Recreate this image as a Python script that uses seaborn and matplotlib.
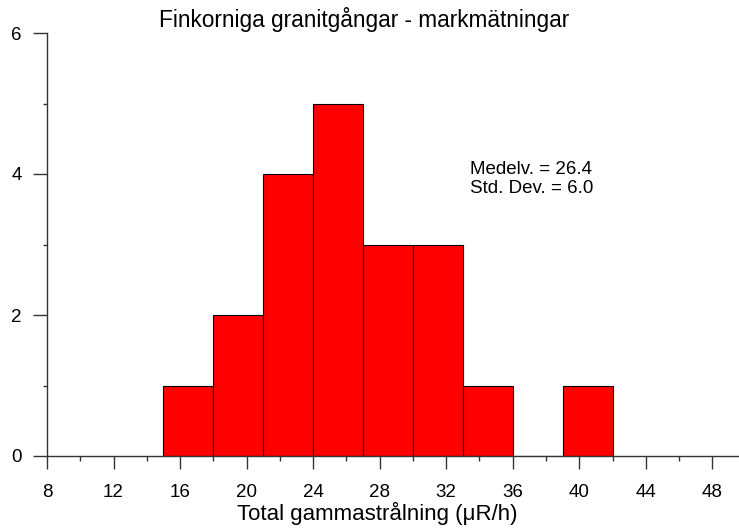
import numpy as np
import matplotlib
matplotlib.use("Agg")
import matplotlib.pyplot as plt
import seaborn as sns
from matplotlib.ticker import MultipleLocator

# histogram bins (width 3) and counts
bin_edges = [15, 18, 21, 24, 27, 30, 33, 36, 39, 42]
counts = [1, 2, 4, 5, 3, 3, 1, 0, 1]
mean_value = 26.4
std_value = 6.0

title = "Finkorniga granitgångar - markmätningar"
xlabel = "Total gammastrålning (\u03bcR/h)"

sns.set_style("white")
plt.rcParams['font.family'] = ['Liberation Sans', 'DejaVu Sans']
plt.rcParams['text.color'] = 'black'
plt.rcParams['xtick.labelcolor'] = 'black'
plt.rcParams['ytick.labelcolor'] = 'black'

centers = [(a + b) / 2 for a, b in zip(bin_edges[:-1], bin_edges[1:])]

fig = plt.figure(figsize=(7.39, 5.28), dpi=100)
ax = fig.add_axes([47 / 739, 1 - 456 / 528, 1 - 47 / 739, (456 - 33) / 528])

sns.histplot(x=centers, weights=counts, bins=bin_edges, color="#ff0000",
             edgecolor="black", linewidth=0.8, alpha=1.0, ax=ax)

ax.set_xlim(8, 49.6)
ax.set_ylim(0, 6)
ax.xaxis.set_major_locator(MultipleLocator(4))
ax.xaxis.set_minor_locator(MultipleLocator(2))
ax.yaxis.set_major_locator(MultipleLocator(2))
ax.yaxis.set_minor_locator(MultipleLocator(1))
ax.set_xticks(np.arange(8, 49, 4))

for side in ["top", "right"]:
    ax.spines[side].set_visible(False)
for side in ["left", "bottom"]:
    ax.spines[side].set_color("#333333")
    ax.spines[side].set_linewidth(1.0)

ax.tick_params(axis="x", which="major", direction="out", length=9, width=1,
               color="#333333", labelcolor="black", labelsize=13.5, pad=11, bottom=True)
ax.tick_params(axis="x", which="minor", direction="out", length=3.5, width=1,
               color="#333333", bottom=True)
ax.tick_params(axis="y", which="major", direction="out", length=10, width=1,
               color="#333333", labelcolor="black", labelsize=13.5, pad=8, left=True)
ax.tick_params(axis="y", which="minor", direction="out", length=3, width=1,
               color="#333333", left=True)

ax.set_xlabel("")
ax.set_ylabel("")
ax.grid(False)

ax.text(33.4, 4.18, f"Medelv. = {mean_value:.1f}\nStd. Dev. = {std_value:.1f}",
        fontsize=13.5, ha="left", va="top", linespacing=1.12, color="black")

fig.text(364 / 739, 1 - 20 / 528, title, fontsize=16.3, ha="center", va="center",
         color="black")
fig.text(377 / 739, 1 - 513 / 528, xlabel, fontsize=16, ha="center", va="center",
         color="black")

fig.savefig("out.png", dpi=100)
